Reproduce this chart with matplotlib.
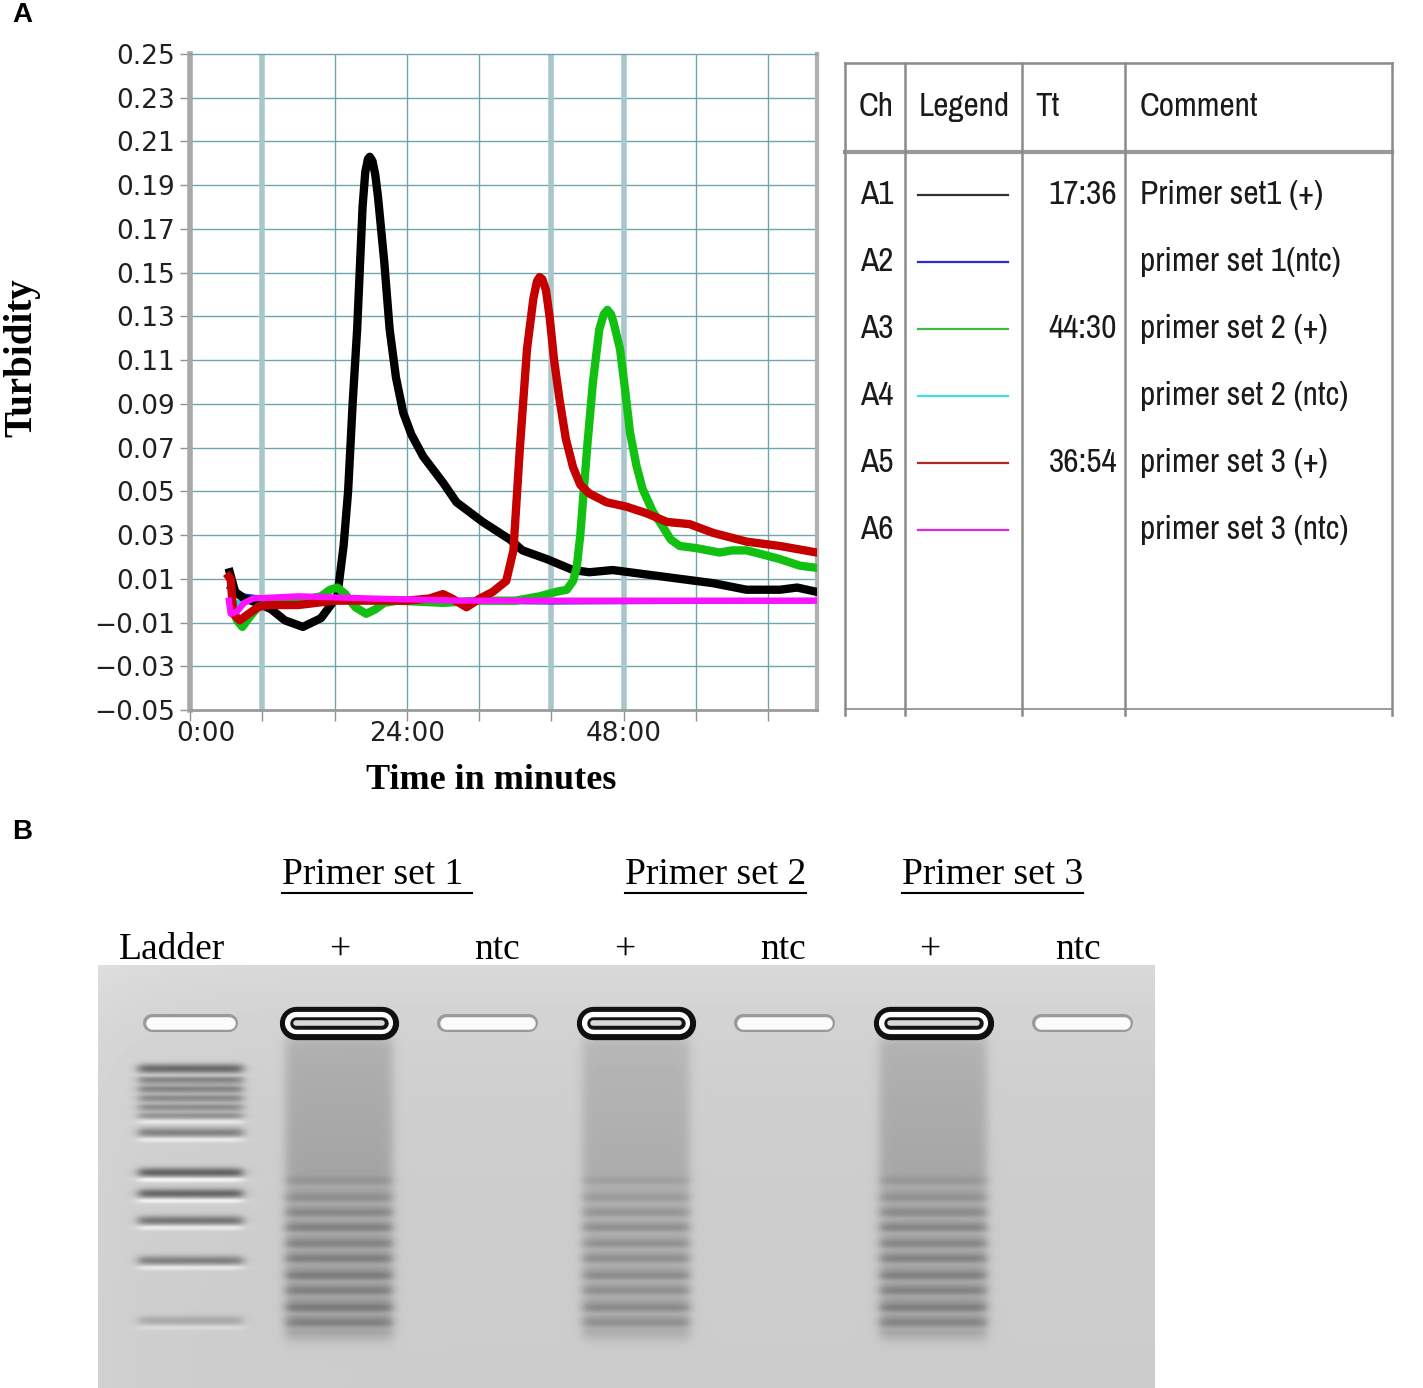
import numpy as np
import matplotlib.pyplot as plt
import matplotlib.transforms as mtransforms
from matplotlib import font_manager

W, H = 1423, 1388

# ---------------- panel A: turbidity curves (time in min, turbidity) ----------------
black_t = [4.4, 4.6, 5.0, 6.0, 7.5, 9.0, 10.5, 12.5, 14.5, 16.3, 17.0, 17.5, 18.0, 18.5,
           19.1, 19.4, 19.7, 19.9, 20.2, 20.5, 20.8, 21.5, 22.1, 22.8, 23.6, 24.5, 25.8,
           28.0, 29.5, 32.4, 35.4, 36.8, 39.5, 42.4, 44.2, 46.8, 50.5, 54.2, 57.9, 61.6,
           65.3, 67.2, 69.4]
black_v = [0.013, 0.010, 0.004, 0.001, -0.001, -0.004, -0.009, -0.012, -0.008, 0.002, 0.025,
           0.050, 0.090, 0.124, 0.180, 0.196, 0.202, 0.203, 0.201, 0.195, 0.185, 0.155, 0.124,
           0.102, 0.086, 0.076, 0.066, 0.054, 0.045, 0.036, 0.028, 0.023, 0.019, 0.014, 0.013,
           0.014, 0.012, 0.010, 0.008, 0.005, 0.005, 0.006, 0.004]

red_t = [4.3, 4.5, 4.8, 5.5, 6.5, 7.5, 8.5, 10.0, 12.0, 14.0, 16.0, 20.0, 24.0, 26.5, 28.0,
         29.0, 30.6, 32.1, 33.5, 35.0, 35.8, 36.5, 37.3, 38.0, 38.4, 38.7, 39.0, 39.4, 39.8,
         40.3, 40.9, 41.6, 42.4, 43.2, 44.2, 46.1, 48.3, 50.5, 52.8, 55.3, 57.9, 61.6, 65.3,
         69.4]
red_v = [0.011, 0.010, -0.006, -0.009, -0.006, -0.003, -0.002, -0.002, -0.002, -0.001, 0.000,
         0.000, 0.000, 0.001, 0.003, 0.001, -0.003, 0.001, 0.004, 0.009, 0.023, 0.069, 0.115,
         0.138, 0.146, 0.148, 0.147, 0.142, 0.130, 0.110, 0.092, 0.074, 0.061, 0.053, 0.049,
         0.045, 0.043, 0.040, 0.036, 0.035, 0.031, 0.027, 0.025, 0.022]

green_t = [4.6, 5.2, 5.8, 6.5, 7.5, 9.0, 12.0, 14.5, 15.5, 16.3, 17.2, 18.3, 19.5, 20.5, 21.5,
           23.0, 28.0, 32.0, 36.0, 38.7, 40.5, 41.7, 42.4, 42.8, 43.2, 43.5, 44.0, 44.6, 45.3,
           45.8, 46.2, 46.6, 46.9, 47.6, 48.2, 48.7, 49.4, 50.1, 51.2, 52.3, 53.2, 54.2, 56.1,
           58.6, 60.0, 61.6, 63.5, 65.3, 67.5, 69.4]
green_v = [-0.002, -0.009, -0.012, -0.008, -0.003, -0.001, 0.000, 0.002, 0.005, 0.006, 0.003,
           -0.003, -0.006, -0.004, -0.001, 0.000, -0.001, 0.000, 0.000, 0.002, 0.004, 0.005,
           0.009, 0.015, 0.030, 0.046, 0.072, 0.100, 0.124, 0.131, 0.133, 0.131, 0.127, 0.115,
           0.095, 0.077, 0.062, 0.051, 0.041, 0.034, 0.028, 0.025, 0.024, 0.022, 0.023, 0.023,
           0.021, 0.019, 0.016, 0.015]

blue_t = [4.4, 5.0, 6.0, 8.0, 20.0, 40.0, 69.4]
blue_v = [0.006, 0.004, 0.002, 0.001, 0.000, -0.0005, 0.000]

cyan_t = [4.4, 5.0, 6.0, 20.0, 69.4]
cyan_v = [0.000, -0.002, 0.001, 0.000, 0.000]

magenta_t = [4.3, 4.5, 5.2, 6.0, 7.0, 12.0, 20.0, 30.0, 45.0, 69.4]
magenta_v = [0.000, -0.006, -0.005, -0.001, 0.001, 0.002, 0.001, 0.000, 0.000, 0.000]

y_ticks = [-0.05, -0.03, -0.01, 0.01, 0.03, 0.05, 0.07, 0.09, 0.11, 0.13, 0.15, 0.17,
           0.19, 0.21, 0.23, 0.25]
x_ticks = [0, 8, 16, 24, 32, 40, 48, 56, 64]
x_labels = ['0:00', '', '', '24:00', '', '', '48:00', '', '']

# table beside the plot
channels = ['A1', 'A2', 'A3', 'A4', 'A5', 'A6']
tt_values = ['17:36', '', '44:30', '', '36:54', '']
comments = ['Primer set1 (+)', 'primer set 1(ntc)', 'primer set 2 (+)',
            'primer set 2 (ntc)', 'primer set 3 (+)', 'primer set 3 (ntc)']
legend_colors = ['#303030', '#2a2ad0', '#44b844', '#44e0e0', '#b02828', '#e028e0']

# ---------------- panel B: gel ----------------
lane_labels = ['Ladder', '+', 'ntc', '+', 'ntc', '+', 'ntc']
primer_sets = ['Primer set 1 ', 'Primer set 2', 'Primer set 3']
ladder_bands = [103, 113, 122, 131, 140, 149, 167, 207, 228, 255, 295, 355]
ladder_strength = [0.40, 0.30, 0.32, 0.30, 0.28, 0.28, 0.30, 0.42, 0.40, 0.34, 0.30, 0.14]
product_lanes = [1, 3, 5]
product_level = [1.0, 0.8, 0.95]
product_bands = [215, 232, 247, 262, 278, 293, 310, 325, 342, 357]
product_strength = [0.06, 0.08, 0.10, 0.12, 0.11, 0.12, 0.13, 0.11, 0.13, 0.10]

names = sorted({f.name for f in font_manager.fontManager.ttflist})
narrow_cands = [n for n in names if 'Narrow' in n or 'Condensed' in n]
narrow = narrow_cands[0] if narrow_cands else 'Liberation Sans'
nsize = 24 if narrow_cands else 20
serif = 'Liberation Serif'

fig = plt.figure(figsize=(W / 100, H / 100), dpi=100)


def box(x0, y0, x1, y1):
    return [x0 / W, 1 - y1 / H, (x1 - x0) / W, (y1 - y0) / H]


# ---- line chart ----
ax = fig.add_axes(box(190, 54, 817, 710))
ax.set_xlim(0, 69.4)
ax.set_ylim(-0.05, 0.25)
for yv in y_ticks[1:-1]:
    ax.axhline(yv, color='#6fa6ab', lw=1.0, zorder=0)
for xv in x_ticks[1:]:
    thick = xv in (8, 40, 48)
    ax.axvline(xv, color='#a9c6cb' if thick else '#6fa6ab', lw=4 if thick else 1.0, zorder=0)

ax.plot(blue_t, blue_v, color='#1010d0', lw=4, zorder=2)
ax.plot(cyan_t, cyan_v, color='#00e0e0', lw=4, zorder=2)
ax.plot(black_t, black_v, color='black', lw=6, zorder=3, solid_joinstyle='round')
ax.plot(green_t, green_v, color='#12c012', lw=6, zorder=4, solid_joinstyle='round')
ax.plot(red_t, red_v, color='#c40000', lw=6, zorder=5, solid_joinstyle='round')
ax.plot(magenta_t, magenta_v, color='#ff10ff', lw=4.5, zorder=6)

ax.set_yticks(y_ticks)
ax.set_yticklabels([('%.2f' % v).replace('-', '\u2212') for v in y_ticks], fontsize=19,
                   family='DejaVu Sans', color='#202020')
ax.set_xticks(x_ticks)
ax.set_xticklabels(x_labels, fontsize=19, family='DejaVu Sans', color='#202020')
ax.tick_params(axis='y', length=7, width=1, color='#909090', pad=4)
ax.tick_params(axis='x', length=8, width=1, color='#909090', pad=0)
off = mtransforms.ScaledTranslation(0.16, 0, fig.dpi_scale_trans)
ax.get_xticklabels()[0].set_transform(ax.get_xticklabels()[0].get_transform() + off)
ax.spines['left'].set_color('#a8a8a8')
ax.spines['left'].set_linewidth(4)
ax.spines['bottom'].set_color('#9a9a9a')
ax.spines['bottom'].set_linewidth(2)
ax.spines['right'].set_color('#b0b0b0')
ax.spines['right'].set_linewidth(3)
ax.spines['top'].set_color('#6fa6ab')
ax.spines['top'].set_linewidth(1)

# ---- gel ----
gx0, gx1, gh = -0.62, 6.49, 423
gax = fig.add_axes(box(98, 965, 1155, 1388))
X, Y = np.meshgrid(np.linspace(gx0, gx1, 1057), np.arange(gh))
img = 0.80 + 0.05 * np.exp(-Y / 90.0) + 0.02 * np.exp(-(X - gx0) / 0.4)


def g(d, s):
    return np.exp(-0.5 * (d / s) ** 2)


def lane(c, half):
    return 1.0 / (1.0 + np.exp((np.abs(X - c) - half) / 0.02))


m = lane(0, 0.35)
for yb, s in zip(ladder_bands, ladder_strength):
    img -= m * s * g(Y - yb, 3.4)
    img += m * 0.45 * s * g(Y - yb - 7, 1.8)
for c, k in zip(product_lanes, product_level):
    m = lane(c, 0.36)
    top = 1.0 / (1.0 + np.exp(-(Y - 72) / 3.0))
    bot = 1.0 / (1.0 + np.exp((Y - 372) / 4.0))
    img -= m * top * bot * k * (0.13 + 0.07 * (Y - 72) / 300.0)
    for yb, s in zip(product_bands, product_strength):
        img -= m * k * s * g(Y - yb, 3.2)
        img += m * k * 0.35 * s * g(Y - yb - 6, 2.0)
img = np.clip(img, 0, 1)
gax.imshow(img, cmap='gray', vmin=0, vmax=1, extent=(gx0, gx1, gh, 0), aspect='auto',
           interpolation='bilinear')
for i in range(len(lane_labels)):
    if i in product_lanes:
        for lw, col in [(24, '#101010'), (16, 'white'), (9, '#151515'), (4, '#d8d8d8')]:
            gax.plot([i - 0.29, i + 0.29], [58, 58], color=col, lw=lw, solid_capstyle='round')
    else:
        half = 0.26 if i == 0 else 0.28
        for lw, col in [(13, '#9a9a9a'), (9, '#fbfbfb')]:
            gax.plot([i - half, i + half], [58, 58], color=col, lw=lw, solid_capstyle='round')
gax.set_xlim(gx0, gx1)
gax.set_ylim(gh, 0)
gax.axis('off')

# ---- overlay for table and labels ----
ov = fig.add_axes([0, 0, 1, 1], zorder=10)
ov.set_xlim(0, W)
ov.set_ylim(H, 0)
ov.axis('off')
ov.patch.set_alpha(0)

ov.text(12, 15, 'A', fontsize=20, fontweight='bold', family='Liberation Sans', va='center')
ov.text(12, 832, 'B', fontsize=20, fontweight='bold', family='Liberation Sans', va='center')
ov.text(22, 358, 'Turbidity', rotation=90, fontsize=28, fontweight='bold', family=serif,
        ha='center', va='center')
ov.text(491, 780, 'Time in minutes', fontsize=26, fontweight='bold', family=serif,
        ha='center', va='center')

gray = '#8a8a8a'
cols = [845, 905, 1022, 1125, 1392]
ov.plot([845, 1392], [63, 63], color=gray, lw=1.8)
ov.plot([845, 1392], [152, 152], color='#999999', lw=3)
ov.plot([845, 1392], [709, 709], color=gray, lw=1.2)
for cx in cols:
    ov.plot([cx, cx], [63, 715], color=gray, lw=1.8)
hdr = dict(fontsize=nsize, family=narrow, va='center', color='#1a1a1a')
ov.text(876, 107, 'Ch', ha='center', **hdr)
ov.text(919, 107, 'Legend', ha='left', **hdr)
ov.text(1035, 107, 'Tt', ha='left', **hdr)
ov.text(1140, 107, 'Comment', ha='left', **hdr)
for i, (ch, tt, cm, col) in enumerate(zip(channels, tt_values, comments, legend_colors)):
    yy = 195 + 67 * i
    ov.text(860, yy, ch, ha='left', **hdr)
    ov.plot([918, 1008], [yy, yy], color=col, lw=1.6)
    ov.text(1117, yy, tt, ha='right', **hdr)
    ov.text(1140, yy, cm, ha='left', **hdr)

set_x = [(282, 472), (625, 806), (902, 1083)]
for name, (a, b) in zip(primer_sets, set_x):
    ov.text(a, 875, name, fontsize=27, family=serif, ha='left', va='center')
    ov.plot([a, b], [893, 893], color='black', lw=1.5)
lab_x = [172, 340, 497, 625, 783, 930, 1078]
for name, lx in zip(lane_labels, lab_x):
    ov.text(lx, 950, name, fontsize=27, family=serif, ha='center', va='center')

fig.savefig('out.png', dpi=100)
